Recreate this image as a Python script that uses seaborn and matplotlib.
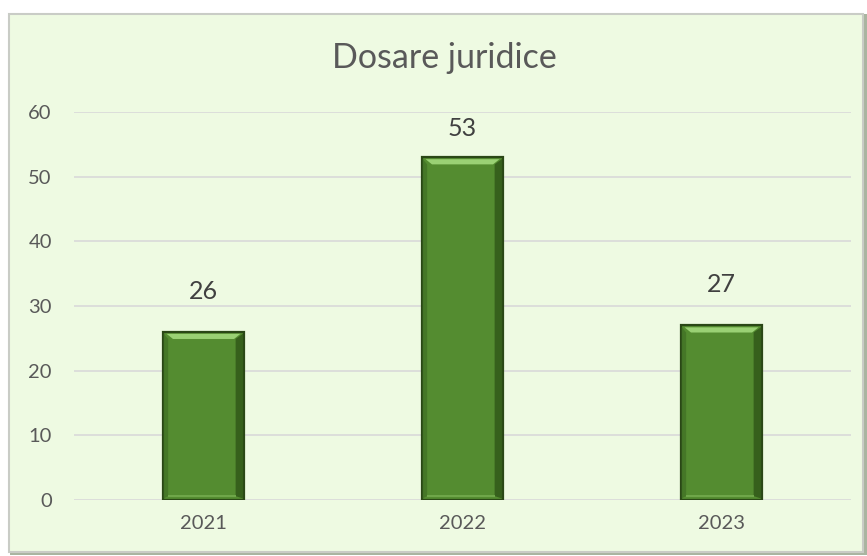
import matplotlib
matplotlib.use("Agg")
import matplotlib.pyplot as plt
import seaborn as sns
import pandas as pd
from matplotlib.patches import Rectangle, Polygon

years = ["2021", "2022", "2023"]
values = [26, 53, 27]
title = "Dosare juridice"
yticks = [0, 10, 20, 30, 40, 50, 60]

df = pd.DataFrame({"year": years, "value": values})

sns.set_theme(style="white")
plt.rcParams["font.family"] = ["Lato", "DejaVu Sans"]

W, H = 867, 556
fig = plt.figure(figsize=(W / 100, H / 100), dpi=100)
fig.patch.set_facecolor("white")

# chart frame with soft shadow
fig.patches.append(Rectangle((10 / W, 1 - 555 / H), 857 / W, 541 / H, transform=fig.transFigure,
                             facecolor="#A9B5A0", edgecolor="none", zorder=-10))
fig.patches.append(Rectangle((9 / W, 1 - 552 / H), 854 / W, 538 / H, transform=fig.transFigure,
                             facecolor="#EEFAE2", edgecolor="#C9CCC6", linewidth=1.5, zorder=-9))

ax = fig.add_axes([74 / W, 1 - 500 / H, 777 / W, 388 / H])
ax.set_zorder(1)
ax.set_facecolor("none")
ax.patch.set_alpha(0)

sns.barplot(data=df, x="year", y="value", ax=ax, color="#548C30", width=0.31,
            edgecolor="#2A4716", linewidth=1.6, saturation=1, zorder=3)

# bevel effect derived from bar patches
for p in list(ax.patches):
    x0, w, h = p.get_x(), p.get_width(), p.get_height()
    ax.add_patch(Polygon([(x0 + w * 0.04, h - 0.3), (x0 + w * 0.96, h - 0.3),
                          (x0 + w * 0.88, h - 1.1), (x0 + w * 0.12, h - 1.1)],
                         closed=True, facecolor="#9AD174", edgecolor="none", zorder=4))
    ax.add_patch(Polygon([(x0 + w * 0.9, h - 1.1), (x0 + w, h - 0.2),
                          (x0 + w, 0.2), (x0 + w * 0.9, 0.6)],
                         closed=True, facecolor="#2A4E14", edgecolor="none", alpha=0.7, zorder=4))
    ax.add_patch(Polygon([(x0, h - 0.2), (x0 + w * 0.06, h - 1.1),
                          (x0 + w * 0.06, 0.6), (x0, 0.2)],
                         closed=True, facecolor="#3C6A22", edgecolor="none", alpha=0.6, zorder=4))
    ax.add_patch(Rectangle((x0 + w * 0.06, 0.5), w * 0.84, 0.35, facecolor="#6FA64A",
                           edgecolor="none", zorder=4))

ax.set_ylim(0, 60)
ax.set_xlim(-0.5, 2.5)
ax.set_yticks(yticks)
ax.grid(axis="y", color="#D9D9D9", linewidth=1.2, zorder=0)
ax.set_axisbelow(True)
for s in ax.spines.values():
    s.set_visible(False)
ax.set_xlabel("")
ax.set_ylabel("")
ax.tick_params(axis="y", length=0, pad=16, labelsize=14.5, labelcolor="#595959")
ax.tick_params(axis="x", length=0, pad=11, labelsize=14.5, labelcolor="#595959")

# data labels above bars, kept inside the plot area like the original chart
for i, v in enumerate(values):
    ax.text(i, min(v + 6.3, 57.5), str(v), ha="center", va="center",
            fontsize=18, color="#404040", zorder=5)

fig.text(444 / W, 1 - 58 / H, title, ha="center", va="center", fontsize=24.5, color="#595959")

fig.savefig("out.png", dpi=100, facecolor="white")
